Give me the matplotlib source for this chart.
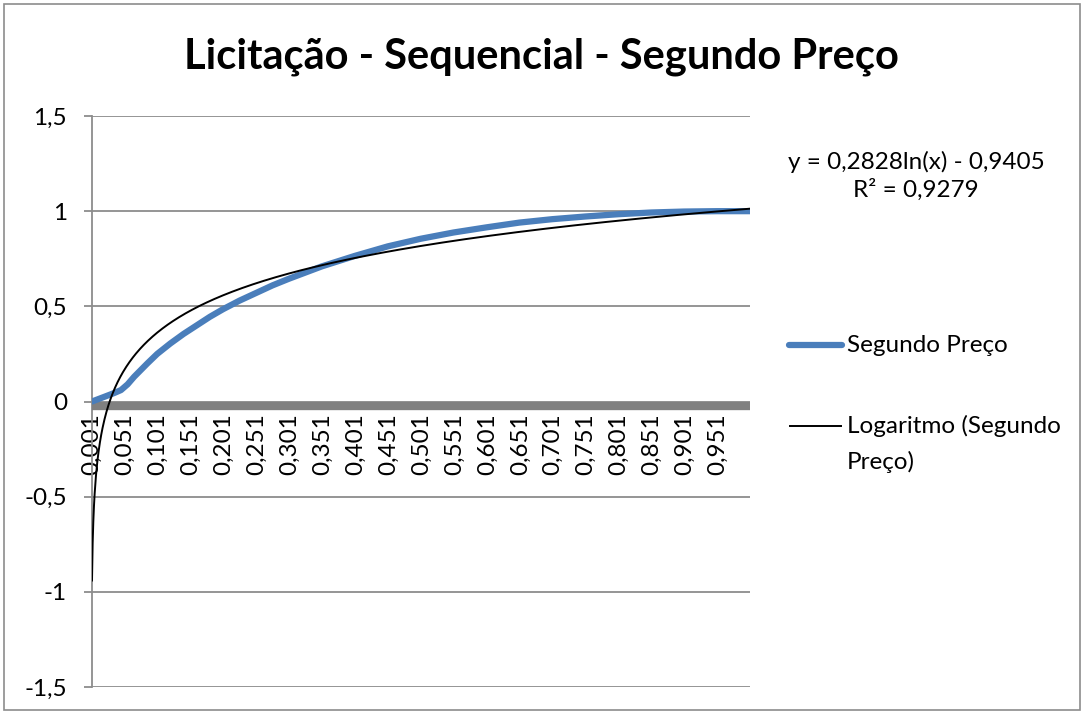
import numpy as np
import matplotlib
matplotlib.use("Agg")
import matplotlib.pyplot as plt
from matplotlib.lines import Line2D
from matplotlib.ticker import FixedLocator, FuncFormatter

plt.rcParams['font.family'] = ['Lato', 'DejaVu Sans']

# data (x = category value, y = Segundo Preço)
x_pts = [0.001, 0.02, 0.035, 0.045, 0.055, 0.065, 0.075, 0.085, 0.1, 0.12,
         0.14, 0.16, 0.18, 0.2, 0.225, 0.25, 0.275, 0.3, 0.35, 0.4,
         0.45, 0.5, 0.55, 0.6, 0.65, 0.7, 0.75, 0.8, 0.85, 0.9, 0.95, 1.0]
y_pts = [0.0, 0.025, 0.045, 0.06, 0.09, 0.13, 0.165, 0.2, 0.25, 0.305,
         0.355, 0.4, 0.445, 0.485, 0.53, 0.57, 0.61, 0.645, 0.71, 0.765,
         0.815, 0.855, 0.888, 0.915, 0.94, 0.958, 0.972, 0.984, 0.993, 0.998, 1.0, 1.0]

# log trendline shown in the chart (x = category index 1..1000)
trend_a = 0.2828
trend_b = -0.9405
r2 = 0.9279
n_cat = 1000
step = 0.001

tick_vals = [round(0.001 + 0.05 * k, 3) for k in range(20)]
y_ticks = [-1.5, -1, -0.5, 0, 0.5, 1, 1.5]

W, H = 1083, 713
FS = 17.5


def comma(v, pos=None):
    return ('%g' % v).replace('.', ',')


def fx(px):
    return px / W


def fy(py):
    return 1 - py / H


fig = plt.figure(figsize=(W / 100, H / 100), dpi=100)
ax = fig.add_axes([fx(92), 26 / H, 658 / W, 571 / H])

# figure border
fig.patches.append(plt.Rectangle((4 / W, 3 / H), 1076 / W, 706 / H,
                                 transform=fig.transFigure, fill=False,
                                 edgecolor='#8c8c8c', linewidth=1.2))

ax.plot(x_pts, y_pts, color='#4a7ebb', linewidth=4.5,
        solid_capstyle='round', solid_joinstyle='round', zorder=3)

idx = np.arange(1, n_cat + 1)
ax.plot(idx * step, trend_a * np.log(idx) + trend_b, color='black',
        linewidth=1.4, zorder=4)

ax.set_xlim(step, n_cat * step)
ax.set_ylim(-1.5, 1.5)
ax.set_yticks(y_ticks)
ax.yaxis.set_major_formatter(FuncFormatter(comma))
ax.xaxis.set_major_locator(FixedLocator(tick_vals))
ax.xaxis.set_major_formatter(FuncFormatter(comma))

ax.grid(axis='y', color='#8c8c8c', linewidth=1.3)
ax.set_axisbelow(True)
for s in ['top', 'right']:
    ax.spines[s].set_visible(False)
ax.spines['left'].set_color('#8c8c8c')
ax.spines['left'].set_linewidth(1.3)
ax.spines['bottom'].set_position(('data', -0.024))
ax.spines['bottom'].set_color('#808080')
ax.spines['bottom'].set_linewidth(6)
ax.spines['bottom'].set_capstyle('butt')

ax.tick_params(axis='y', length=6, width=1.3, color='#8c8c8c', pad=12,
               labelsize=FS)
ax.tick_params(axis='x', length=0, pad=5, labelsize=FS, labelrotation=90)

fig.text(0.5, fy(57), 'Licitação - Sequencial - Segundo Preço', fontsize=30,
         fontweight='bold', ha='center', va='center')

fig.text(fx(916), fy(176), 'y = 0,2828ln(x) - 0,9405\nR² = 0,9279',
         ha='center', va='center', multialignment='center', fontsize=FS,
         linespacing=1.3)

# legend
fig.add_artist(Line2D([fx(789), fx(842)], [fy(345), fy(345)],
                      color='#4a7ebb', linewidth=4.5, solid_capstyle='round'))
fig.text(fx(847), fy(345), 'Segundo Preço', fontsize=FS, va='center')
fig.add_artist(Line2D([fx(790), fx(841)], [fy(426), fy(426)],
                      color='black', linewidth=1.4))
fig.text(fx(847), fy(426), 'Logaritmo (Segundo', fontsize=FS, va='center')
fig.text(fx(847), fy(462), 'Preço)', fontsize=FS, va='center')

fig.savefig('out.png', dpi=100)
